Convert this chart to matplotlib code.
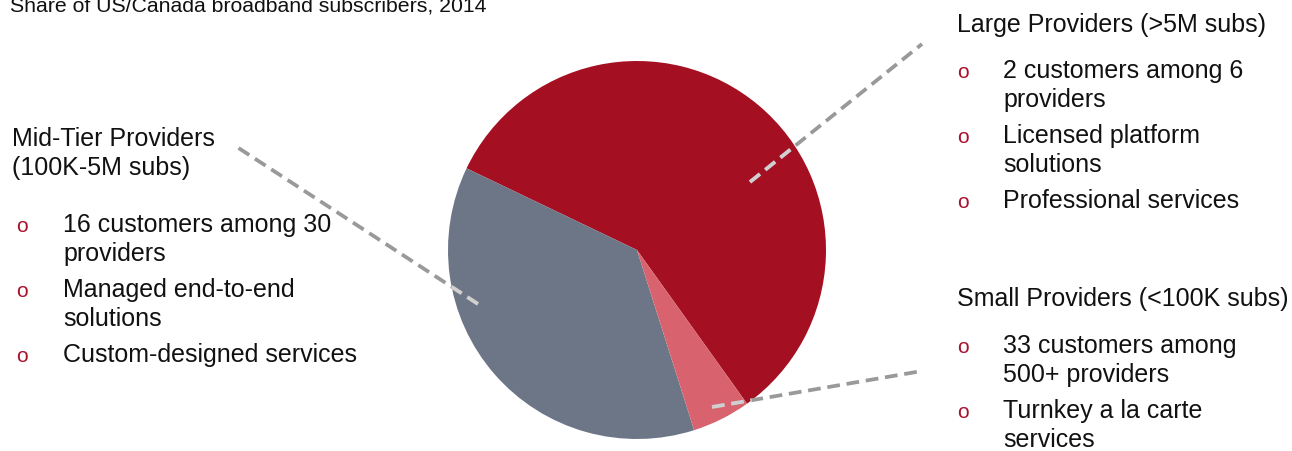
import numpy as np
import matplotlib
matplotlib.use("Agg")
import matplotlib.pyplot as plt

W, H = 1292, 452

# data
title = "Share of US/Canada broadband subscribers, 2014"
segments = ["Large Providers", "Mid-Tier Providers", "Small Providers"]
shares = [58, 37, 5]
seg_colors = ["#A50F22", "#6D7687", "#D8636F"]

large_header = ["Large Providers (>5M subs)"]
large_bullets = [["2 customers among 6", "providers"],
                 ["Licensed platform", "solutions"],
                 ["Professional services"]]

mid_header = ["Mid-Tier Providers", "(100K-5M subs)"]
mid_bullets = [["16 customers among 30", "providers"],
               ["Managed end-to-end", "solutions"],
               ["Custom-designed services"]]

small_header = ["Small Providers (<100K subs)"]
small_bullets = [["33 customers among", "500+ providers"],
                 ["Turnkey a la carte", "services"]]

plt.rcParams["font.family"] = ["Liberation Sans", "DejaVu Sans"]

fig = plt.figure(figsize=(W / 100, H / 100), dpi=100)
ax = fig.add_axes([0, 0, 1, 1])


def py(y):
    # pixel row (from top) to data y
    return H - y


# pie
cx, cy, r = 637, py(251), 189
ax.pie(shares, colors=seg_colors, startangle=-54.4, counterclock=True,
       center=(cx, cy), radius=r, frame=True,
       wedgeprops=dict(linewidth=0))
ax.set_xlim(0, W)
ax.set_ylim(0, H)
ax.axis("off")


# leader lines: (inner point, outer point) in pixels
leaders = [((750, 183), (922, 45)),
           ((478, 305), (237, 148)),
           ((712, 408), (922, 372))]

dash = (3.4, 1.8)
for (x0, y0), (x1, y1) in leaders:
    a = np.array([x0, py(y0)], float)
    b = np.array([x1, py(y1)], float)
    d = b - a
    ac = a - np.array([cx, cy])
    qa = d @ d
    qb = 2 * (ac @ d)
    qc = ac @ ac - r * r
    t = (-qb + np.sqrt(qb * qb - 4 * qa * qc)) / (2 * qa)
    m = a + t * d
    ax.plot([a[0], b[0]], [a[1], b[1]], color="#999999", lw=2.7,
            linestyle=(0, dash), zorder=3)
    # lighter dashes where the line runs over the pie
    ax.plot([a[0], m[0]], [a[1], m[1]], color="white", alpha=0.55, lw=2.7,
            linestyle=(0, dash), zorder=4)


def block(hx, hy, header, bx, tx, by, bullets, lh=29, gap=36):
    for i, line in enumerate(header):
        ax.text(hx, py(hy + i * lh), line, fontsize=18, color="#111111",
                va="baseline", ha="left")
    y = by
    for item in bullets:
        ax.text(bx, py(y), "o", fontsize=15, color="#A8102C",
                va="baseline", ha="left")
        for j, line in enumerate(item):
            ax.text(tx, py(y + j * lh), line, fontsize=18, color="#111111",
                    va="baseline", ha="left")
        y += (len(item) - 1) * lh + gap


ax.text(10, py(12), title, fontsize=15.3, color="#111111",
        va="baseline", ha="left")

block(957, 32, large_header, 957, 1003, 78, large_bullets)
block(12, 146, mid_header, 16, 63, 232, mid_bullets)
block(957, 306, small_header, 957, 1003, 353, small_bullets)

fig.savefig("out.png", dpi=100, facecolor="white")
